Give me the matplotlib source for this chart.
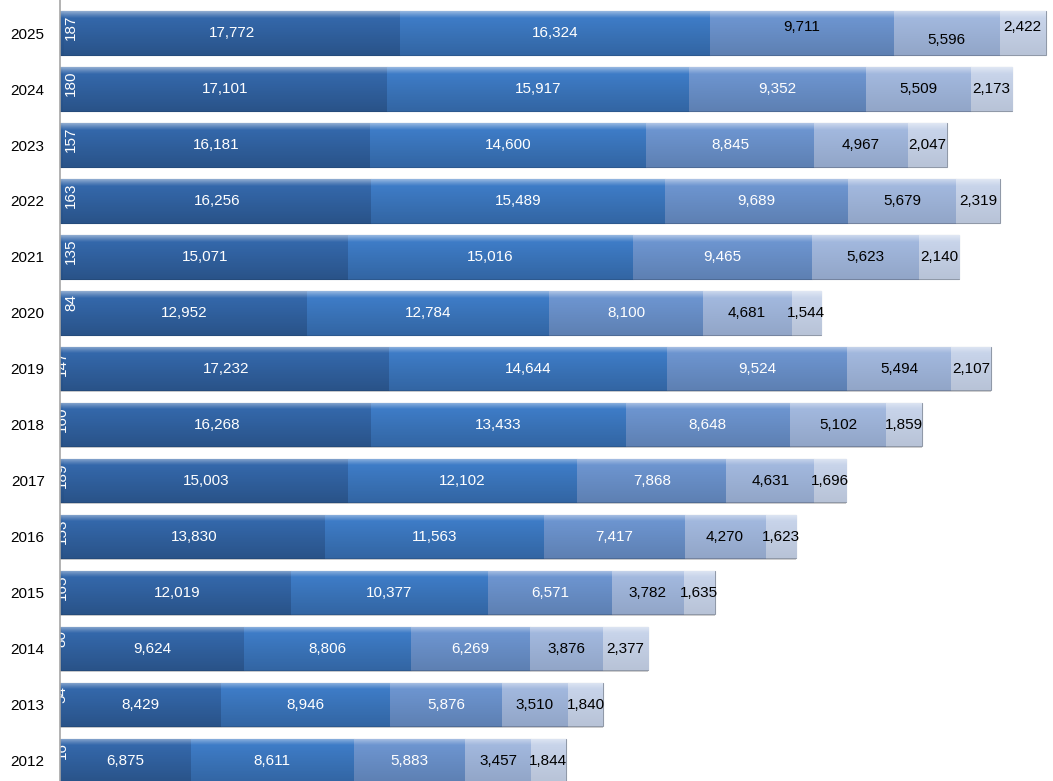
import numpy as np
import matplotlib.pyplot as plt
from matplotlib.colors import LinearSegmentedColormap, to_rgb

plt.rcParams['font.family'] = ['Liberation Sans', 'DejaVu Sans']

# Jahre und Teilsummen je Segment (von links nach rechts gestapelt)
years = [2012, 2013, 2014, 2015, 2016, 2017, 2018, 2019, 2020, 2021, 2022, 2023, 2024, 2025]
s1 = [16, 54, 80, 165, 153, 189, 160, 147, 84, 135, 163, 157, 180, 187]
s2 = [6875, 8429, 9624, 12019, 13830, 15003, 16268, 17232, 12952, 15071, 16256, 16181, 17101, 17772]
s3 = [8611, 8946, 8806, 10377, 11563, 12102, 13433, 14644, 12784, 15016, 15489, 14600, 15917, 16324]
s4 = [5883, 5876, 6269, 6571, 7417, 7868, 8648, 9524, 8100, 9465, 9689, 8845, 9352, 9711]
s5 = [3457, 3510, 3876, 3782, 4270, 4631, 5102, 5494, 4681, 5623, 5679, 4967, 5509, 5596]
s6 = [1844, 1840, 2377, 1635, 1623, 1696, 1859, 2107, 1544, 2140, 2319, 2047, 2173, 2422]

series = [s1, s2, s3, s4, s5, s6]
colors = ['#3064a6', '#3468ab', '#3e7cc7', '#6d95d0', '#a2b8de', '#c8d4ea']
shade = [0.8, 0.8, 0.82, 0.86, 0.9, 0.92]
textcol = ['white', 'white', 'white', 'white', 'black', 'black']


def lighten(c, f):
    r = np.array(to_rgb(c))
    return tuple(r + (1 - r) * f)


def darken(c, f):
    return tuple(np.array(to_rgb(c)) * f)


fig = plt.figure(figsize=(10.53, 7.81), dpi=100)
ax = fig.add_axes([60 / 1053, 0, 1 - 60 / 1053, 1])

y = np.arange(len(years))
h = 0.77
grad = np.linspace(0, 1, 64).reshape(-1, 1)
left = np.zeros(len(years))
fs = 11

for k, vals in enumerate(series):
    vals = np.array(vals, dtype=float)
    # leichter Schatten unter den Balken
    ax.barh(y - 0.03, vals, left=left, height=h, color='#d0d0d0', linewidth=0, zorder=1)
    bars = ax.barh(y, vals, left=left, height=h, color=colors[k],
                   edgecolor=darken(colors[k], 0.72), linewidth=0.8, zorder=2)
    cmap = LinearSegmentedColormap.from_list(
        'g%d' % k, [(0, darken(colors[k], shade[k])), (0.85, colors[k]),
                    (0.93, lighten(colors[k], 0.22)), (1, lighten(colors[k], 0.45))])
    for p in bars:
        x0, y0 = p.get_x(), p.get_y()
        im = ax.imshow(grad, extent=[x0, x0 + p.get_width(), y0, y0 + p.get_height()],
                       origin='lower', aspect='auto', cmap=cmap, zorder=2.5,
                       interpolation='bilinear')
        im.set_clip_path(p)
    # Beschriftung
    for i, v in enumerate(vals):
        cx = left[i] + v / 2
        if k == 0:
            dx = 3 if years[i] >= 2020 else -4
            ax.annotate('%d' % v, (left[i], y[i] + h / 2), xytext=(dx, -2),
                        textcoords='offset points', rotation=90, ha='left', va='top',
                        color='white', fontsize=fs, zorder=4)
            continue
        col = textcol[k]
        dy = 0
        if years[i] == 2025:
            dy = {3: 4, 4: -5, 5: 4}.get(k, 0)
            if k == 3:
                col = 'black'
        ax.annotate('{:,}'.format(int(v)), (cx, y[i]), xytext=(0, dy),
                    textcoords='offset points', ha='center', va='center',
                    color=col, fontsize=fs, zorder=4)
    left = left + vals

ax.set_xlim(0, 52400)
ax.set_ylim(-0.36, 13.59)
ax.set_yticks(y)
ax.set_yticklabels([str(v) for v in years], fontsize=fs)
ax.tick_params(axis='y', length=0, pad=11)
ax.set_xticks([])
for s in ['top', 'right', 'bottom']:
    ax.spines[s].set_visible(False)
ax.spines['left'].set_color('#a6a6a6')
ax.spines['left'].set_linewidth(1.2)
ax.spines['left'].set_zorder(5)

fig.savefig('out.png', dpi=100)
